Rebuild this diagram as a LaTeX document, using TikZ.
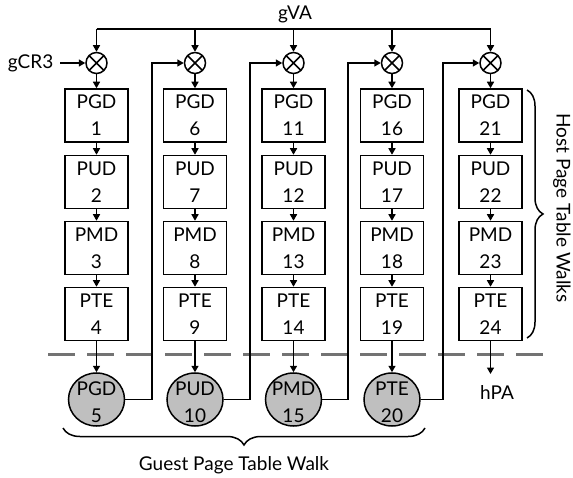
\documentclass[tikz,border=0pt]{standalone}
\usepackage{fontspec}
\setmainfont{Lato}
\usetikzlibrary{arrows.meta,decorations.pathreplacing,shapes.geometric}
\begin{document}
\begin{tikzpicture}[x=1pt,y=-1pt,
  font=\fontsize{19}{27}\selectfont,
  line width=1.5pt,
  arr/.style={-{Triangle[length=6.5pt,width=7pt]}},
  tbox/.style={draw,minimum width=63pt,minimum height=53pt,inner sep=0pt,align=center},
  mult/.style={draw,circle,minimum size=21pt,inner sep=0pt,path picture={
     \draw[line width=1.5pt] (path picture bounding box.north west) -- (path picture bounding box.south east)
       (path picture bounding box.north east) -- (path picture bounding box.south west);}},
  gnode/.style={draw,ellipse,fill=gray!50,minimum width=56pt,minimum height=53pt,inner sep=0pt},
  txt/.style={inner sep=0pt,align=center}]
\useasboundingbox (0,0) rectangle (573,478);
% columns
\foreach \c/\x in {1/96.5,2/195,3/293.5,4/392,5/490.5}{
  \node[mult] (m\c) at (\x,63) {};
  \coordinate (t\c) at (\x,29);
}
\foreach \c/\x/\a/\b/\cc/\d in {1/96.5/1/2/3/4,2/195/6/7/8/9,3/293.5/11/12/13/14,4/392/16/17/18/19,5/490.5/21/22/23/24}{
  \node[tbox] (b\c1) at (\x,115.5) {PGD\\\a};
  \node[tbox] (b\c2) at (\x,182) {PUD\\\b};
  \node[tbox] (b\c3) at (\x,248) {PMD\\\cc};
  \node[tbox] (b\c4) at (\x,314) {PTE\\\d};
  \draw[arr] (m\c) -- (b\c1);
  \draw[arr] (b\c1) -- (b\c2);
  \draw[arr] (b\c2) -- (b\c3);
  \draw[arr] (b\c3) -- (b\c4);
}
% gVA bus
\node[txt] (gva) at (295,14) {gVA};
\draw (t1) -- (t5);
\foreach \c in {1,...,5}{ \draw[arr] (t\c) -- (m\c); }
% gCR3
\node[txt,anchor=east] (gcr) at (54,63) {gCR3};
\draw[arr] ([xshift=6pt]gcr.east) -- (m1);
% dashed separator
\coordinate (dl) at (48,354);
\coordinate (dr) at (548,354);
\draw[gray!90!black,line width=3pt,dash pattern=on 27pt off 12pt] (dl) -- (dr);
% guest nodes
\foreach \c/\x/\t in {1/96.5/PGD\\5,2/195/PUD\\10,3/293.5/PMD\\15,4/392/PTE\\20}{
  \node[gnode] (g\c) at (\x,399.5) {};
  \node[txt] at (\x,402) {\t};
  \draw[arr] (b\c4) -- (g\c);
}
% feedback
\foreach \c/\n/\v in {1/2/152,2/3/250,3/4/348,4/5/443}{
  \draw[arr] (g\c.east) -| (\v,63) -- (m\n);
}
% hPA
\node[txt] (hpa) at (497,393) {hPA};
\coordinate (hpaend) at (490.5,374);
\draw[arr] (b54) -- (hpaend);
% braces
\draw[decorate,decoration={brace,amplitude=16pt}] (527,90) -- (527,338);
\node[txt,rotate=-90] at (562,208) {Host Page Table Walks};
\draw[decorate,decoration={brace,amplitude=17pt,mirror}] (63,428) -- (425,428);
\node[txt] at (234,465) {Guest Page Table Walk};
\end{tikzpicture}
\end{document}
